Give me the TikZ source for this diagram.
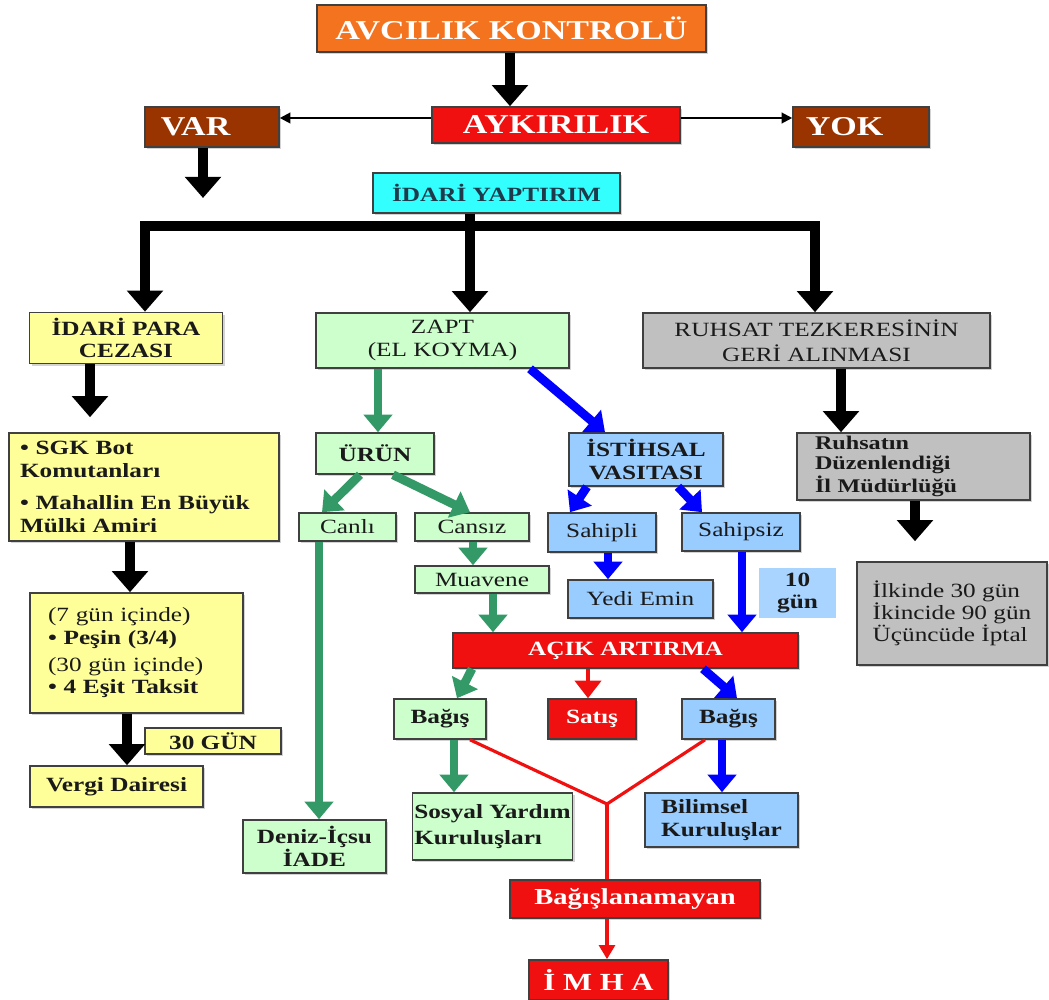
\documentclass[tikz,border=0pt]{standalone}
\usepackage{fontspec}
\setmainfont{Liberation Serif}[FakeStretch=1.25]
\usepackage{tikz}
\usetikzlibrary{arrows.meta,shadows}
\definecolor{ink}{HTML}{1A1A1A}
\definecolor{ink2}{HTML}{1F3A4A}
\definecolor{orng}{HTML}{F4731F}
\definecolor{redb}{HTML}{F01010}
\definecolor{brn}{HTML}{993300}
\definecolor{cyn}{HTML}{33FFFF}
\definecolor{yel}{HTML}{FFFF99}
\definecolor{lgr}{HTML}{CCFFCC}
\definecolor{gry}{HTML}{C0C0C0}
\definecolor{lbl}{HTML}{99CCFF}
\definecolor{grn}{HTML}{339966}
\definecolor{blu}{HTML}{0000FF}

\begin{document}
\begin{tikzpicture}[x=0.02cm,y=-0.02cm,
  box/.style={draw=black!75,line width=0.9pt,inner sep=1pt,align=center,text=ink,
    drop shadow={shadow xshift=1.2pt,shadow yshift=-1.2pt,opacity=0.35},
    font=\fontsize{11.5}{13}\selectfont\bfseries},
  wh/.style 2 args={minimum width=#1*0.02cm,minimum height=#2*0.02cm},
  rg/.style={font=\fontsize{11.5}{13}\selectfont},
  hdr/.style={box,text=white,font=\fontsize{15.5}{17}\selectfont\bfseries},
  wred/.style={box,fill=redb,text=white},
  yb/.style={box,fill=yel}, gb/.style={box,fill=lgr},
  bb/.style={box,fill=lbl}, sb/.style={box,fill=gry},
  bk/.style={draw=black,line width=5.5pt,-{Triangle[width=20pt,length=12pt]}},
  bkln/.style={draw=black,line width=5.5pt},
  gr/.style={draw=grn,line width=5pt,-{Triangle[width=16pt,length=10pt]}},
  bl/.style={gr,draw=blu},
  thn/.style={draw=black,line width=1.2pt,-{Triangle[width=6pt,length=6pt]}},
  rd/.style={draw=redb,line width=1.8pt},
  rdar/.style={rd,-{Triangle[width=15pt,length=10pt]}}]
\useasboundingbox (0,0) rectangle (1049,1000);
% top
\node[hdr,fill=orng,wh={389}{47}] (avc) at (511.5,28.5) {AVCILIK KONTROLÜ};
\node[hdr,fill=redb,wh={248}{36}] (ayk) at (556,125) {AYKIRILIK};
\node[hdr,fill=brn,wh={134}{40}] (var) at (212,127) {VAR\hspace{1.2em}};
\node[hdr,fill=brn,wh={136}{40}] (yok) at (861,127) {YOK\hspace{1.2em}};
\node[box,fill=cyn,text=ink2,wh={247}{40}] (iy) at (496.5,193) {İDARİ YAPTIRIM};
\draw[bk] (avc.south -| 510,0) -- (ayk.north -| 510,0);
\draw[thn] (ayk.west |- 0,118) -- (var.east |- 0,118);
\draw[thn] (ayk.east |- 0,118) -- (yok.west |- 0,118);
\coordinate (varE) at (203,198);
\draw[bk] (var.south -| varE) -- (varE);
% three branches
\node[yb,wh={193}{51}] (ipc) at (126,338) {İDARİ PARA\\CEZASI};
\node[gb,rg,wh={253}{55}] (zapt) at (442.5,340.5) {ZAPT\\(EL KOYMA)};
\node[sb,rg,wh={347}{55},font=\fontsize{11.5}{14}\selectfont] (rts) at (816.5,340.5) {RUHSAT TEZKERESİNİN\\GERİ ALINMASI};
\coordinate (bus) at (470,226);
\draw[bkln] (iy.south -| bus) -- (bus);
\draw[bk] (bus) -| (ipc.north -| 145,0);
\draw[bk] (bus) -- (zapt.north -| bus);
\draw[bk] (bus) -| (rts.north -| 815,0);
% left column
\node[yb,wh={270}{108},align=left,text width=4.96cm] (sgk) at (144,487) {• SGK Bot\\Komutanları\\[5pt]• Mahallin En Büyük\\Mülki Amiri};
\node[yb,wh={213}{120},align=left,text width=3.54cm] (ode) at (136.5,653) {{\mdseries(7 gün içinde)}\\• Peşin (3/4)\\[2pt]{\mdseries(30 gün içinde)}\\• 4 Eşit Taksit};
\node[yb,wh={136}{26}] (gun30) at (213,741) {30 GÜN};
\node[yb,wh={173}{41}] (vergi) at (116.5,786.5) {Vergi Dairesi};
\draw[bk,shorten >=0.3cm] (ipc.south -| 90,0) -- (sgk.north -| 90,0);
\draw[bk] (sgk.south -| 130,0) -- (ode.north -| 130,0);
\draw[bk] (ode.south -| 127,0) -- (vergi.north -| 127,0);
% zapt: urun
\node[gb,wh={118}{41}] (urun) at (375,453.5) {ÜRÜN};
\node[gb,rg,wh={97}{28}] (canli) at (347.5,527) {Canlı};
\node[gb,rg,wh={114}{28}] (cansiz) at (472,527) {Cansız};
\node[gb,rg,wh={134}{27}] (muav) at (482,579.5) {Muavene};
\node[gb,wh={143}{53}] (deniz) at (314.5,846.5) {Deniz-İçsu\\İADE};
\draw[gr] (zapt.south -| 378,0) -- (urun.north -| 378,0);
\draw[gr] (urun.south -| 360,0) -- (canli.north -| 322,0);
\draw[gr] (urun.south -| 393,0) -- (cansiz.north -| 470,0);
\draw[gr] (cansiz.south -| 473,0) -- (muav.north -| 473,0);
\draw[gr] (canli.south -| 319,0) -- (deniz.north -| 319,0);
% zapt: istihsal
\node[bb,wh={154}{53}] (ist) at (646,459.5) {İSTİHSAL\\VASITASI};
\node[bb,rg,wh={108}{39}] (sahipli) at (602,532.5) {Sahipli};
\node[bb,rg,wh={118}{38}] (sahipsiz) at (741,532) {Sahipsiz};
\node[bb,rg,wh={145}{38}] (yedi) at (640.5,599) {Yedi Emin};
\node[fill=lbl!85,inner sep=1pt,align=center,text=ink,wh={77}{50},
  font=\fontsize{11.5}{13}\selectfont\bfseries] (gun10) at (797.5,593) {10\\gün};
\node[wred,wh={345}{35}] (acik) at (625.5,650.5) {AÇIK ARTIRMA};
\draw[gr] (muav.south -| 493,0) -- (acik.north -| 493,0);
\draw[bl] (zapt.south -| 530,0) -- (ist.north -| 605,0);
\draw[bl] (ist.south -| 587,0) -- (sahipli.north -| 570,0);
\draw[bl] (ist.south -| 678,0) -- (sahipsiz.north -| 702,0);
\draw[bl] (sahipli.south -| 608,0) -- (yedi.north -| 608,0);
\draw[bl] (sahipsiz.south -| 742,0) -- (acik.north -| 742,0);
% auction results
\node[gb,wh={92}{40}] (bagis1) at (440,719) {Bağış};
\node[wred,wh={88}{40}] (satis) at (592,719) {Satış};
\node[bb,wh={93}{40}] (bagis2) at (728.5,719) {Bağış};
\node[gb,wh={153}{67},align=left,font=\fontsize{11.5}{15}\selectfont\bfseries] (sosyal) at (492.5,826.5) {Sosyal Yardım\\Kuruluşları};
\node[bb,wh={153}{54},align=left] (bilim) at (721.5,820) {Bilimsel\\Kuruluşlar};
\node[wred,wh={250}{38},font=\fontsize{13}{15}\selectfont\bfseries] (bagisl) at (635,899) {Bağışlanamayan};
\node[wred,wh={139}{40},font=\fontsize{14}{16}\selectfont\bfseries] (imha) at (598.5,980) {İ M H A};
\draw[gr] (acik.south -| 472,0) -- (bagis1.north -| 457,0);
\draw[rdar] (acik.south -| 588,0) -- (satis.north -| 588,0);
\draw[bl] (acik.south -| 703,0) -- (bagis2.north -| 737,0);
\draw[gr] (bagis1.south -| 454,0) -- (sosyal.north -| 454,0);
\draw[bl] (bagis2.south -| 722,0) -- (bilim.north -| 722,0);
\coordinate (jn) at (607,804);
\draw[rd] (bagis1.south -| 470,0) -- (jn) -- (bagis2.south -| 705,0);
\draw[rd] (jn) -- (bagisl.north -| jn);
\draw[rd,-{Triangle[width=9pt,length=8pt]}] (bagisl.south -| 607,0) -- (imha.north -| 607,0);
% ruhsat column
\node[sb,wh={233}{67},align=left,text width=3.94cm,font=\fontsize{11}{11.5}\selectfont\bfseries] (ruh) at (913.5,466.5) {Ruhsatın\\Düzenlendiği\\İl Müdürlüğü};
\node[sb,rg,wh={190}{103},align=left,font=\fontsize{11.5}{12.5}\selectfont] (ilk) at (952,613.5) {İlkinde 30 gün\\İkincide 90 gün\\Üçüncüde İptal};
\draw[bk] (rts.south -| 841,0) -- (ruh.north -| 841,0);
\draw[bk,shorten >=0.4cm] (ruh.south -| 915,0) -- (ilk.north -| 915,0);
\end{tikzpicture}
\end{document}
